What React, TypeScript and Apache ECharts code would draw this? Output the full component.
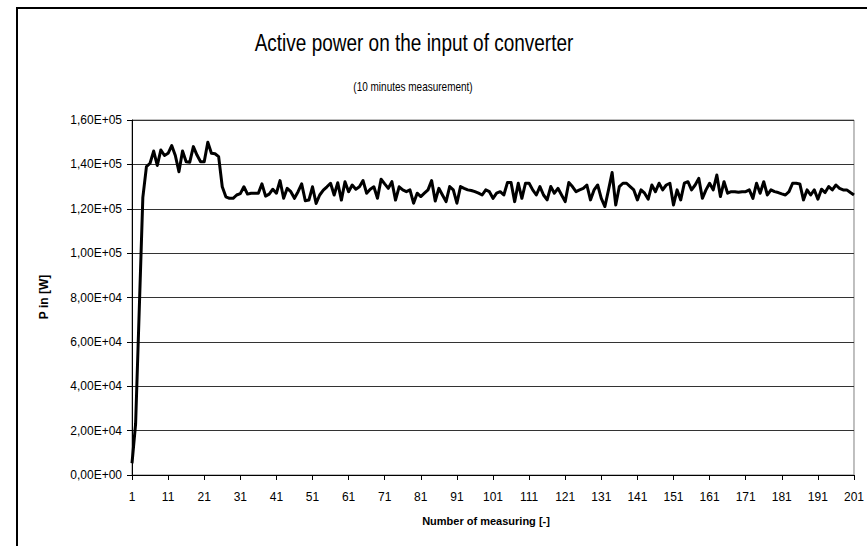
import React, { useEffect, useRef } from "react";
import * as echarts from "echarts";

// Measuring index labels (1 .. 201)
const categories: string[] = Array.from({ length: 201 }, (_, i) => String(i + 1));

// Active power P in [W]
const startUp: number[] = [
  5300, 23000, 74000, 125000, 139000, 140500, 146000, 139500, 146500, 144000,
  145000, 148500, 144000, 136700, 146000, 141200, 141000, 148000, 144200, 141200,
  141200, 150000, 145000, 144800, 143500,
];
const segmentA: number[] = [
  129900, 125400, 124700, 124700, 126200, 126800, 129900, 126600, 127000, 127000,
  127000, 131200, 125700, 126600, 128800, 127000, 132700, 124700, 129200, 127700,
  124700, 127700, 131200, 123600, 123900, 129900, 122400, 126200, 128400, 129900,
  131500, 126200, 131700, 123900, 132200, 127700, 130700, 128800, 129900, 132700,
  127000, 128800, 129900, 124700, 133300, 131200, 129200, 132200, 123900, 129900,
];
const segmentB: number[] = [
  128500, 127700, 128500, 122500, 127000, 125500, 127000, 128500, 132700, 123500,
  129200, 126200, 123200, 130000, 128500, 122500, 130000, 129200, 128500, 128200,
  127700, 127000, 126200, 128500, 127700, 124700, 127000, 127700, 126200, 131800,
  131800, 123200, 131500, 124700, 131500, 131500, 128500, 126200, 130000, 126200,
  124000, 130000, 127000, 129200, 126200, 123200, 131800, 130000, 127700, 128500,
];
const segmentC: number[] = [
  129200, 130700, 124000, 128500, 130700, 124700, 121000, 128500, 136300, 121700,
  130000, 131500, 131500, 130000, 128500, 124000, 128500, 127000, 124300, 130700,
  127700, 131500, 128500, 130700, 131500, 121700, 128500, 124000, 131500, 132200,
  128500, 130700, 133700, 124700, 128500, 131500, 128500, 135200, 125500, 132200,
  127000, 127700, 127700, 127400, 127700, 127700, 128500, 124700, 131500, 127000,
];
const segmentD: number[] = [
  132200, 126200, 128500, 127700, 127300, 126700, 126200, 127700, 131500, 131500,
  131200, 124000, 128500, 126200, 128500, 124300, 128800, 127300, 130000, 128500,
  130700, 129200, 128500, 128500, 127300, 126200,
];
const powerValues: number[] = [...startUp, ...segmentA, ...segmentB, ...segmentC, ...segmentD];

// Y tick settings
const yMin = 0;
const yMax = 160000;
const yStep = 20000;

const titleText = "Active power on the input of converter";
const subtitleText = "(10 minutes measurement)";
const yName = "P in [W]";
const xName = "Number of measuring [-]";

function sciComma(v: number): string {
  if (v === 0) return "0,00E+00";
  let e = Math.floor(Math.log10(v) + 1e-9);
  let m = v / Math.pow(10, e);
  let s = m.toFixed(2);
  if (s === "10.00") {
    e += 1;
    s = "1.00";
  }
  return s.replace(".", ",") + "E+" + String(e).padStart(2, "0");
}

const FONT = "'Liberation Sans', Arial, sans-serif";

export default function App() {
  const ref = useRef<HTMLDivElement>(null);
  useEffect(() => {
    if (!ref.current) return;
    const chart = echarts.init(ref.current, undefined, { renderer: "svg" });
    chart.setOption({
      animation: false,
      backgroundColor: "#ffffff",
      textStyle: { fontFamily: FONT },
      grid: {
        left: 132,
        top: 120,
        right: 2,
        bottom: 71,
        show: true,
        borderColor: "#808080",
        borderWidth: 1,
        backgroundColor: "transparent",
      },
      xAxis: {
        type: "category",
        data: categories,
        boundaryGap: false,
        axisLine: { lineStyle: { color: "#000", width: 1 } },
        axisTick: { interval: 9, length: 5, lineStyle: { color: "#000" } },
        axisLabel: {
          interval: 9,
          fontSize: 12,
          color: "#000",
          fontFamily: FONT,
          margin: 16,
        },
        splitLine: { show: false },
      },
      yAxis: {
        type: "value",
        min: yMin,
        max: yMax,
        interval: yStep,
        axisLine: { show: true, lineStyle: { color: "#000", width: 1 } },
        axisTick: { show: true, length: 5, lineStyle: { color: "#000" } },
        axisLabel: {
          formatter: (v: number) => sciComma(v),
          fontSize: 12,
          color: "#000",
          fontFamily: FONT,
          margin: 10,
        },
        splitLine: { lineStyle: { color: "#333", width: 1 } },
      },
      series: [
        {
          type: "line",
          data: powerValues,
          showSymbol: false,
          symbol: "none",
          lineStyle: { color: "#000", width: 3, join: "round" },
          itemStyle: { color: "#000" },
        },
      ],
      graphic: [
        {
          type: "rect",
          silent: true,
          z: -10,
          shape: { x: 17, y: 8, width: 900, height: 600 },
          style: { fill: "none", stroke: "#000", lineWidth: 2 },
        },
        {
          type: "text",
          x: 414,
          y: 43,
          scaleY: 1.3,
          style: {
            text: titleText,
            fontSize: 19,
            fontFamily: FONT,
            fill: "#000",
            align: "center",
            verticalAlign: "middle",
          },
        },
        {
          type: "text",
          x: 413,
          y: 87,
          scaleY: 1.2,
          style: {
            text: subtitleText,
            fontSize: 10,
            fontFamily: FONT,
            fill: "#000",
            align: "center",
            verticalAlign: "middle",
          },
        },
        {
          type: "text",
          x: 44,
          y: 297,
          rotation: Math.PI / 2,
          style: {
            text: yName,
            fontSize: 12,
            fontWeight: "bold",
            fontFamily: FONT,
            fill: "#000",
            align: "center",
            verticalAlign: "middle",
          },
        },
        {
          type: "text",
          x: 486,
          y: 521,
          style: {
            text: xName,
            fontSize: 11,
            fontWeight: "bold",
            fontFamily: FONT,
            fill: "#000",
            align: "center",
            verticalAlign: "middle",
          },
        },
      ],
    });
    return () => chart.dispose();
  }, []);
  return (
    <div
      ref={ref}
      style={{ position: "absolute", left: 0, top: 0, width: 867, height: 546 }}
    />
  );
}
